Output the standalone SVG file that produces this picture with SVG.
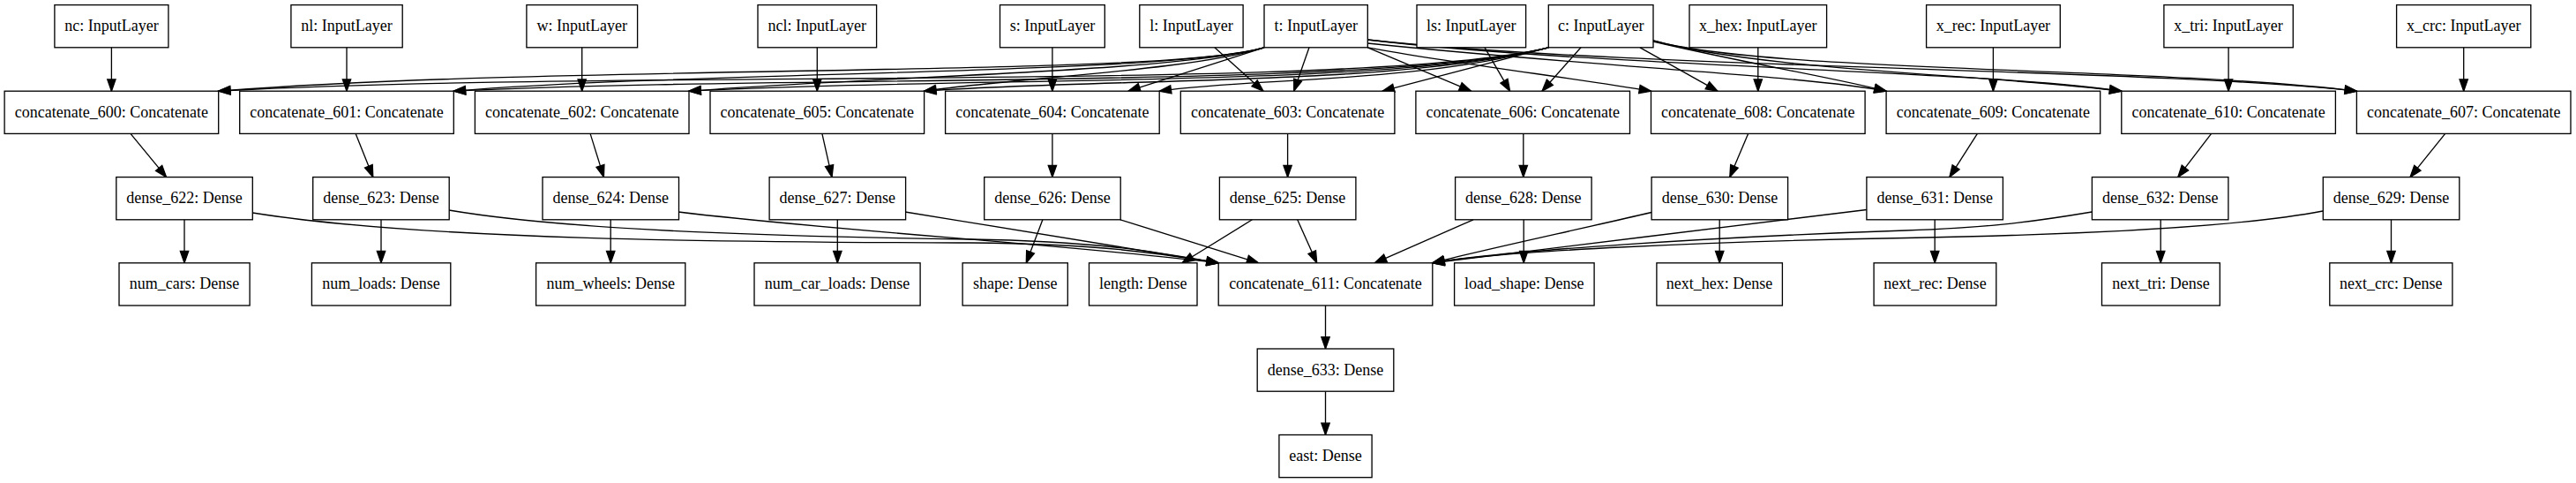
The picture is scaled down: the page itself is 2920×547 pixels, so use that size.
<svg xmlns="http://www.w3.org/2000/svg" width="2920" height="547" viewBox="0 0 2920 547">
<style>
.node rect{fill:#fff;stroke:#000;stroke-width:1.33}
.node text{font-family:"Liberation Serif","Times New Roman",serif;font-size:18px;text-anchor:middle;fill:#000}
#edges path{fill:none;stroke:#000;stroke-width:1.33;marker-end:url(#arr)}
</style>
<defs>
<marker id="arr" markerUnits="userSpaceOnUse" markerWidth="14" markerHeight="10" refX="13.3" refY="4.67" orient="auto" overflow="visible">
<path d="M0,0 L13.3,4.67 L0,9.33 Z" fill="#000" stroke="#000" stroke-width="1.33"/>
</marker>
</defs>
<rect x="0" y="0" width="2920" height="547" fill="#fff"/>
<g id="edges">
<path d="M126.4,53.8 V103.2"/>
<path d="M393,53.8 V103.2"/>
<path d="M659.7,53.8 V103.2"/>
<path d="M926.3,53.8 V103.2"/>
<path d="M1192.9,53.8 V103.2"/>
<path d="M1376.8,53.8 L1432,103.2"/>
<path d="M1683,53.8 L1711.6,103.2"/>
<path d="M1992.8,53.8 V103.2"/>
<path d="M2259.4,53.8 V103.2"/>
<path d="M2526.1,53.8 V103.2"/>
<path d="M2792.7,53.8 V103.2"/>
<path d="M1433,53.8 C1320,88 650,72 247.7,103.2"/>
<path d="M1433,53.8 C1320,85 800,80 514.3,103.2"/>
<path d="M1433,53.8 C1330,82 1000,86 781,103.2"/>
<path d="M1433,53.8 C1350,80 1150,88 1047.6,103.2"/>
<path d="M1433,53.8 L1279,103.2"/>
<path d="M1484,53.8 L1466.7,103.2"/>
<path d="M1550.3,53.8 L1667.6,103.2"/>
<path d="M1550.3,53.8 C1650,72 1780,88 1871.5,103.2"/>
<path d="M1550.3,49 C1800,75 2050,86 2138.1,103.2"/>
<path d="M1550.3,45 C1800,75 2250,80 2404.8,103.2"/>
<path d="M1550.3,45 C1850,78 2450,78 2671.4,103.2"/>
<path d="M1755.3,53.8 C1550,104 700,78 247.7,103.2"/>
<path d="M1755.3,53.8 C1560,102 900,84 514.3,103.2"/>
<path d="M1755.3,53.8 C1570,100 1100,86 781,103.2"/>
<path d="M1755.3,53.8 C1580,98 1250,88 1047.6,103.2"/>
<path d="M1755.3,53.8 C1600,95 1420,88 1314.2,103.2"/>
<path d="M1755.3,53.8 L1567,103.2"/>
<path d="M1792,53.8 L1748,103.2"/>
<path d="M1859,53.8 L1947,103.2"/>
<path d="M1874,47 C1980,72 2080,88 2138.1,103.2"/>
<path d="M1874,46 C2000,80 2250,84 2404.8,103.2"/>
<path d="M1874,46 C2000,82 2450,76 2671.4,103.2"/>
<path d="M148,151.4 L188.6,200.6"/>
<path d="M403.2,151.4 L422.8,200.6"/>
<path d="M669.1,151.4 L684.4,200.6"/>
<path d="M931.9,151.4 L943,200.6"/>
<path d="M1192.9,151.4 V200.6"/>
<path d="M1459.6,151.4 V200.6"/>
<path d="M1726.8,151.4 V200.6"/>
<path d="M1981.6,151.4 L1960.8,200.6"/>
<path d="M2241.4,151.4 L2209.9,200.6"/>
<path d="M2506.6,151.4 L2468.8,200.6"/>
<path d="M2771.7,151.4 L2732,200.6"/>
<path d="M209,248.8 V297.8"/>
<path d="M432,248.8 V297.8"/>
<path d="M692.2,248.8 V297.8"/>
<path d="M949.3,248.8 V297.8"/>
<path d="M1181.9,248.8 L1163.3,297.8"/>
<path d="M1419.4,248.8 L1340,297.8"/>
<path d="M1727.2,248.8 V297.8"/>
<path d="M1949.2,248.8 V297.8"/>
<path d="M2193.2,248.8 V297.8"/>
<path d="M2449.2,248.8 V297.8"/>
<path d="M2710.5,248.8 V297.8"/>
<path d="M286.3,241 C500,275 900,274 1100,275 C1250,276 1320,288 1381.2,297.8"/>
<path d="M508.9,238 C650,262 900,268 1100,271 C1250,273 1320,287 1381.2,297.8"/>
<path d="M768.9,240 C950,262 1200,276 1381.2,297.8"/>
<path d="M1025.9,240 C1150,260 1280,281 1381.2,297.8"/>
<path d="M1269.9,248.8 L1426.7,297.8"/>
<path d="M1470.7,248.8 L1492.7,297.8"/>
<path d="M1670,248.8 L1558.3,297.8"/>
<path d="M1872.1,240.5 C1780,262 1680,283 1623.8,297.8"/>
<path d="M2115.9,237.5 C2000,252 1750,282 1623.8,297.8"/>
<path d="M2371.3,240 C2300,252 2250,258 2160,261 C1950,268 1700,284 1623.8,297.8"/>
<path d="M2633,239 C2550,255 2400,265 2160,269.5 C1950,273 1700,284 1623.8,297.8"/>
<path d="M1502.5,346 V395"/>
<path d="M1502.5,443.2 V492.5"/>
</g>
<g id="nc" class="node"><rect x="61.9" y="5.6" width="129" height="48.2"/><text x="126.4" y="35.1">nc: InputLayer</text></g>
<g id="nl" class="node"><rect x="329.9" y="5.6" width="126.3" height="48.2"/><text x="393" y="35.1">nl: InputLayer</text></g>
<g id="w" class="node"><rect x="596.9" y="5.6" width="125.7" height="48.2"/><text x="659.7" y="35.1">w: InputLayer</text></g>
<g id="ncl" class="node"><rect x="859" y="5.6" width="134.6" height="48.2"/><text x="926.3" y="35.1">ncl: InputLayer</text></g>
<g id="s" class="node"><rect x="1133.5" y="5.6" width="118.8" height="48.2"/><text x="1192.9" y="35.1">s: InputLayer</text></g>
<g id="l" class="node"><rect x="1291.8" y="5.6" width="117.3" height="48.2"/><text x="1350.5" y="35.1">l: InputLayer</text></g>
<g id="t" class="node"><rect x="1433" y="5.6" width="117.3" height="48.2"/><text x="1491.7" y="35.1">t: InputLayer</text></g>
<g id="ls" class="node"><rect x="1606" y="5.6" width="123.6" height="48.2"/><text x="1667.8" y="35.1">ls: InputLayer</text></g>
<g id="c" class="node"><rect x="1755.3" y="5.6" width="118.7" height="48.2"/><text x="1814.7" y="35.1">c: InputLayer</text></g>
<g id="x_hex" class="node"><rect x="1915" y="5.6" width="155.6" height="48.2"/><text x="1992.8" y="35.1">x_hex: InputLayer</text></g>
<g id="x_rec" class="node"><rect x="2183.6" y="5.6" width="151.7" height="48.2"/><text x="2259.4" y="35.1">x_rec: InputLayer</text></g>
<g id="x_tri" class="node"><rect x="2452.9" y="5.6" width="146.4" height="48.2"/><text x="2526.1" y="35.1">x_tri: InputLayer</text></g>
<g id="x_crc" class="node"><rect x="2716.6" y="5.6" width="152.2" height="48.2"/><text x="2792.7" y="35.1">x_crc: InputLayer</text></g>
<g id="concatenate_600" class="node"><rect x="5.1" y="103.2" width="242.6" height="48.2"/><text x="126.4" y="132.7">concatenate_600: Concatenate</text></g>
<g id="concatenate_601" class="node"><rect x="271.7" y="103.2" width="242.6" height="48.2"/><text x="393" y="132.7">concatenate_601: Concatenate</text></g>
<g id="concatenate_602" class="node"><rect x="538.4" y="103.2" width="242.6" height="48.2"/><text x="659.7" y="132.7">concatenate_602: Concatenate</text></g>
<g id="concatenate_605" class="node"><rect x="805" y="103.2" width="242.6" height="48.2"/><text x="926.3" y="132.7">concatenate_605: Concatenate</text></g>
<g id="concatenate_604" class="node"><rect x="1071.6" y="103.2" width="242.6" height="48.2"/><text x="1192.9" y="132.7">concatenate_604: Concatenate</text></g>
<g id="concatenate_603" class="node"><rect x="1338.3" y="103.2" width="242.6" height="48.2"/><text x="1459.6" y="132.7">concatenate_603: Concatenate</text></g>
<g id="concatenate_606" class="node"><rect x="1604.9" y="103.2" width="242.6" height="48.2"/><text x="1726.2" y="132.7">concatenate_606: Concatenate</text></g>
<g id="concatenate_608" class="node"><rect x="1871.5" y="103.2" width="242.6" height="48.2"/><text x="1992.8" y="132.7">concatenate_608: Concatenate</text></g>
<g id="concatenate_609" class="node"><rect x="2138.1" y="103.2" width="242.6" height="48.2"/><text x="2259.4" y="132.7">concatenate_609: Concatenate</text></g>
<g id="concatenate_610" class="node"><rect x="2404.8" y="103.2" width="242.6" height="48.2"/><text x="2526.1" y="132.7">concatenate_610: Concatenate</text></g>
<g id="concatenate_607" class="node"><rect x="2671.4" y="103.2" width="242.6" height="48.2"/><text x="2792.7" y="132.7">concatenate_607: Concatenate</text></g>
<g id="dense_622" class="node"><rect x="131.8" y="200.6" width="154.5" height="48.2"/><text x="209" y="230.1">dense_622: Dense</text></g>
<g id="dense_623" class="node"><rect x="354.7" y="200.6" width="154.5" height="48.2"/><text x="432" y="230.1">dense_623: Dense</text></g>
<g id="dense_624" class="node"><rect x="615" y="200.6" width="154.5" height="48.2"/><text x="692.2" y="230.1">dense_624: Dense</text></g>
<g id="dense_627" class="node"><rect x="872.1" y="200.6" width="154.5" height="48.2"/><text x="949.3" y="230.1">dense_627: Dense</text></g>
<g id="dense_626" class="node"><rect x="1115.7" y="200.6" width="154.5" height="48.2"/><text x="1192.9" y="230.1">dense_626: Dense</text></g>
<g id="dense_625" class="node"><rect x="1382.4" y="200.6" width="154.5" height="48.2"/><text x="1459.6" y="230.1">dense_625: Dense</text></g>
<g id="dense_628" class="node"><rect x="1649.6" y="200.6" width="154.5" height="48.2"/><text x="1726.8" y="230.1">dense_628: Dense</text></g>
<g id="dense_630" class="node"><rect x="1872.1" y="200.6" width="154.5" height="48.2"/><text x="1949.4" y="230.1">dense_630: Dense</text></g>
<g id="dense_631" class="node"><rect x="2115.9" y="200.6" width="154.5" height="48.2"/><text x="2193.2" y="230.1">dense_631: Dense</text></g>
<g id="dense_632" class="node"><rect x="2371.4" y="200.6" width="154.5" height="48.2"/><text x="2448.7" y="230.1">dense_632: Dense</text></g>
<g id="dense_629" class="node"><rect x="2633.3" y="200.6" width="154.5" height="48.2"/><text x="2710.6" y="230.1">dense_629: Dense</text></g>
<g id="num_cars" class="node"><rect x="135" y="297.8" width="148.1" height="48.2"/><text x="209" y="327.3">num_cars: Dense</text></g>
<g id="num_loads" class="node"><rect x="353.4" y="297.8" width="157.4" height="48.2"/><text x="432.1" y="327.3">num_loads: Dense</text></g>
<g id="num_wheels" class="node"><rect x="607.6" y="297.8" width="169.2" height="48.2"/><text x="692.2" y="327.3">num_wheels: Dense</text></g>
<g id="num_car_loads" class="node"><rect x="855" y="297.8" width="188.1" height="48.2"/><text x="949" y="327.3">num_car_loads: Dense</text></g>
<g id="shape" class="node"><rect x="1091.1" y="297.8" width="119.2" height="48.2"/><text x="1150.7" y="327.3">shape: Dense</text></g>
<g id="length" class="node"><rect x="1234.5" y="297.8" width="122.5" height="48.2"/><text x="1295.7" y="327.3">length: Dense</text></g>
<g id="concatenate_611" class="node"><rect x="1381.2" y="297.8" width="242.6" height="48.2"/><text x="1502.5" y="327.3">concatenate_611: Concatenate</text></g>
<g id="load_shape" class="node"><rect x="1648.6" y="297.8" width="158.5" height="48.2"/><text x="1727.8" y="327.3">load_shape: Dense</text></g>
<g id="next_hex" class="node"><rect x="1877.9" y="297.8" width="142.5" height="48.2"/><text x="1949.1" y="327.3">next_hex: Dense</text></g>
<g id="next_rec" class="node"><rect x="2124.1" y="297.8" width="138.7" height="48.2"/><text x="2193.4" y="327.3">next_rec: Dense</text></g>
<g id="next_tri" class="node"><rect x="2382.5" y="297.8" width="133.8" height="48.2"/><text x="2449.4" y="327.3">next_tri: Dense</text></g>
<g id="next_crc" class="node"><rect x="2640.8" y="297.8" width="139.1" height="48.2"/><text x="2710.3" y="327.3">next_crc: Dense</text></g>
<g id="dense_633" class="node"><rect x="1425.2" y="395" width="154.6" height="48.2"/><text x="1502.5" y="424.5">dense_633: Dense</text></g>
<g id="east" class="node"><rect x="1449.9" y="492.5" width="105.2" height="48.2"/><text x="1502.5" y="522">east: Dense</text></g>
</svg>
